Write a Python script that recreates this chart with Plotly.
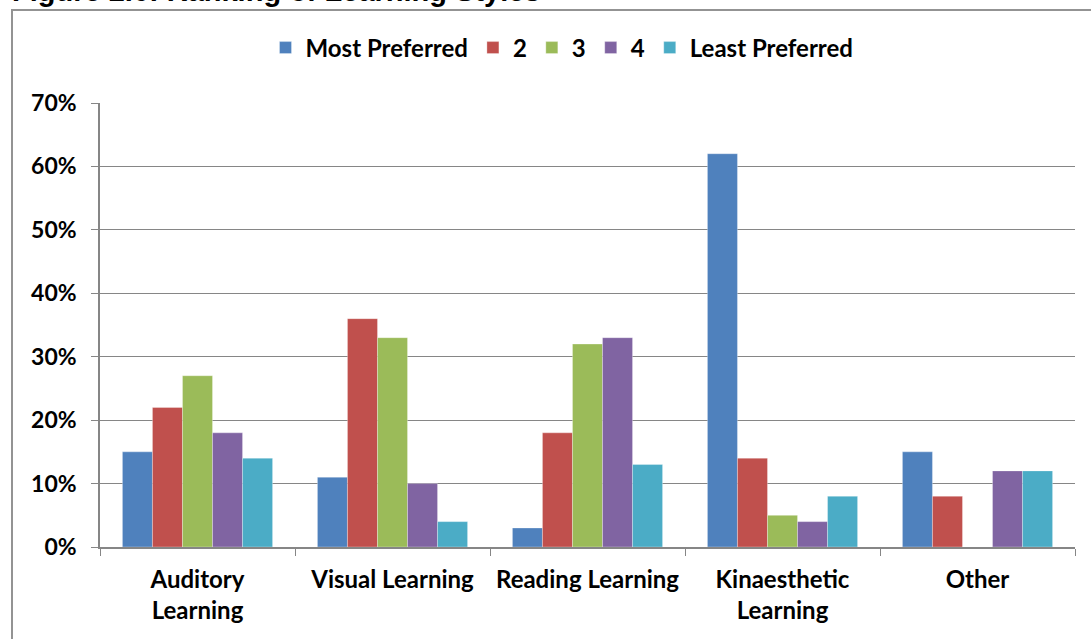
import plotly.graph_objects as go

categories = ["Auditory<br>Learning", "Visual Learning", "Reading Learning", "Kinaesthetic<br>Learning", "Other"]
series_names = ["Most Preferred", "2", "3", "4", "Least Preferred"]
most_preferred = [15, 11, 3, 62, 15]
rank2 = [22, 36, 18, 14, 8]
rank3 = [27, 33, 32, 5, 0]
rank4 = [18, 10, 33, 4, 12]
least_preferred = [14, 4, 13, 8, 12]
colors = ["#4F81BD", "#C0504D", "#9BBB59", "#8064A2", "#4BACC6"]
y_ticks = [0, 10, 20, 30, 40, 50, 60, 70]
y_ticklabels = [f"<b>{v}%</b>" for v in y_ticks]

series = [most_preferred, rank2, rank3, rank4, least_preferred]

fig = go.Figure()
for name, vals, col in zip(series_names, series, colors):
    fig.add_trace(go.Bar(
        x=categories, y=vals, name=f"<b>{name}</b>",
        marker=dict(color=col, line=dict(color="rgba(255,255,255,0.6)", width=0.5)),
    ))

W, H = 1091, 639
ml, mr, mt, mb = 100, 16, 103, 92
pw = W - ml - mr
ph = H - mt - mb

def px_x(x):
    return (x - ml) / pw

def px_y(y):
    return (H - mb - y) / ph

FONT = "Lato, Arial, sans-serif"

fig.update_layout(
    width=W, height=H,
    margin=dict(l=ml, r=mr, t=mt, b=mb, autoexpand=False),
    paper_bgcolor="white", plot_bgcolor="white",
    barmode="group", bargap=0.23, bargroupgap=0,
    font=dict(family=FONT, size=22, color="black"),
    legend=dict(orientation="h", x=px_x(562), xanchor="center", y=px_y(48), yanchor="middle",
                font=dict(size=24, family=FONT, color="black"),
                itemwidth=30, traceorder="normal"),
    xaxis=dict(
        showline=True, linecolor="#868686", linewidth=1.5,
        ticks="outside", tickson="boundaries", ticklen=7, tickcolor="#868686",
        tickvals=categories, ticktext=[f"<b>{c}</b>" for c in categories],
        tickfont=dict(size=24, family=FONT, color="black"),
        ticklabelstandoff=10,
        showgrid=False, automargin=False,
    ),
    yaxis=dict(
        range=[0, 70], tickvals=y_ticks, ticktext=y_ticklabels,
        showline=True, linecolor="#868686", linewidth=1.5,
        ticks="outside", ticklen=7, tickcolor="#868686",
        showgrid=True, gridcolor="#868686", gridwidth=1.2,
        tickfont=dict(size=23, family=FONT, color="black"),
        ticklabelstandoff=10,
        zeroline=False, automargin=False,
    ),
    shapes=[dict(type="rect", xref="paper", yref="paper",
                 x0=px_x(12), x1=px_x(1110), y0=px_y(660), y1=px_y(10),
                 line=dict(color="#939393", width=2), fillcolor="rgba(0,0,0,0)", layer="below")],
    annotations=[dict(text="<b>Figure 2.6: Ranking of Learning Styles</b>", xref="paper", yref="paper",
                      x=px_x(10), xanchor="left", y=px_y(9), yanchor="bottom", showarrow=False,
                      font=dict(family="Arial, Liberation Sans, sans-serif", size=29, color="black"))],
)

fig.write_html("out.html", post_script="document.body.style.margin='0';",
               config={"displayModeBar": False})
